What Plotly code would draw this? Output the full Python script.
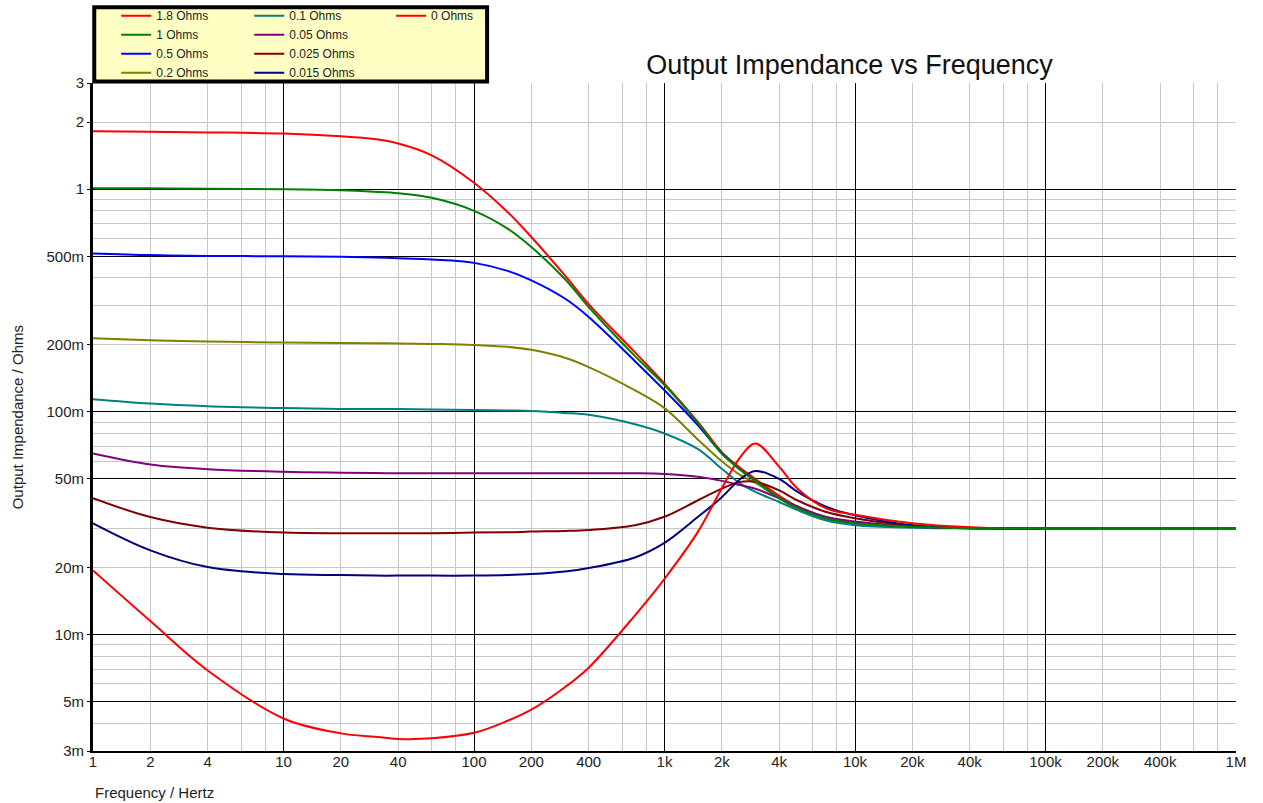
import plotly.graph_objects as go

# ---- data ----
freq = [1, 2, 4, 10, 20, 30, 40, 60, 100, 150, 200, 300, 400, 700, 1000, 1500, 2000, 2500, 3000,
        4000, 5000, 7000, 10000, 20000, 50000, 100000, 1000000]

z_1p8 = [1.82, 1.81, 1.80, 1.78, 1.73, 1.68, 1.605, 1.42, 1.07, 0.79, 0.61, 0.41, 0.305, 0.185, 0.134,
         0.090, 0.066, 0.056, 0.050, 0.042, 0.0375, 0.0335, 0.0318, 0.0306, 0.0300, 0.0300, 0.0300]
z_1 = [1.01, 1.01, 1.005, 1.0, 0.99, 0.975, 0.96, 0.915, 0.80, 0.666, 0.55, 0.395, 0.296, 0.178, 0.132,
       0.089, 0.065, 0.055, 0.049, 0.041, 0.037, 0.0333, 0.0316, 0.0305, 0.0300, 0.0300, 0.0300]
z_0p5 = [0.515, 0.506, 0.502, 0.50, 0.498, 0.494, 0.49, 0.483, 0.467, 0.43, 0.39, 0.323, 0.267, 0.169, 0.125,
         0.087, 0.065, 0.055, 0.049, 0.041, 0.037, 0.0333, 0.0316, 0.0305, 0.0300, 0.0300, 0.0300]
z_0p2 = [0.214, 0.210, 0.207, 0.205, 0.204, 0.2035, 0.203, 0.202, 0.200, 0.196, 0.190, 0.175, 0.159, 0.125, 0.104,
         0.075, 0.060, 0.052, 0.048, 0.041, 0.0365, 0.033, 0.0313, 0.0304, 0.0300, 0.0300, 0.0300]
z_0p1 = [0.114, 0.109, 0.106, 0.104, 0.103, 0.103, 0.103, 0.1025, 0.102, 0.1015, 0.101, 0.099, 0.097, 0.088, 0.080,
         0.068, 0.0555, 0.0476, 0.0437, 0.0394, 0.0362, 0.0326, 0.0310, 0.0302, 0.0300, 0.0300, 0.0300]
z_0p05 = [0.065, 0.058, 0.0553, 0.0538, 0.0533, 0.0531, 0.053, 0.053, 0.053, 0.053, 0.053, 0.053, 0.053, 0.053, 0.0526,
          0.0511, 0.049, 0.0469, 0.0452, 0.0409, 0.0376, 0.0338, 0.0322, 0.0305, 0.0300, 0.0300, 0.0300]
z_0p025 = [0.041, 0.0337, 0.0302, 0.0287, 0.0285, 0.0285, 0.0285, 0.0285, 0.0287, 0.0288, 0.029, 0.0292, 0.0295, 0.031, 0.0338,
           0.0401, 0.0452, 0.0485, 0.0485, 0.0444, 0.040, 0.0356, 0.0333, 0.0308, 0.0300, 0.0300, 0.0300]
z_0p015 = [0.0316, 0.0239, 0.0201, 0.0187, 0.0185, 0.0184, 0.0184, 0.0184, 0.0184, 0.0185, 0.0187, 0.0192, 0.0199, 0.0222, 0.0258,
           0.0338, 0.0414, 0.050, 0.0543, 0.050, 0.0437, 0.0376, 0.0343, 0.0310, 0.0300, 0.0300, 0.0300]
z_0 = [0.0194, 0.0115, 0.0069, 0.0042, 0.0036, 0.00348, 0.0034, 0.00342, 0.00362, 0.0041, 0.0046, 0.0058, 0.0071, 0.0122, 0.0178,
       0.029, 0.0454, 0.0627, 0.0721, 0.0567, 0.0452, 0.037, 0.0345, 0.0316, 0.0301, 0.0300, 0.0300]

series_names = ["1.8 Ohms", "1 Ohms", "0.5 Ohms", "0.2 Ohms", "0.1 Ohms",
                "0.05 Ohms", "0.025 Ohms", "0.015 Ohms", "0 Ohms"]
series_values = [z_1p8, z_1, z_0p5, z_0p2, z_0p1, z_0p05, z_0p025, z_0p015, z_0]
series_colors = ["#FF0000", "#008000", "#0000FF", "#808000", "#008080",
                 "#800080", "#800000", "#000080", "#FF0000"]
series_legend = ["legend"] * 4 + ["legend2"] * 4 + ["legend3"]

x_tick_vals = [1, 2, 4, 10, 20, 40, 100, 200, 400, 1e3, 2e3, 4e3, 1e4, 2e4, 4e4, 1e5, 2e5, 4e5, 1e6]
x_tick_text = ["1", "2", "4", "10", "20", "40", "100", "200", "400", "1k", "2k", "4k",
               "10k", "20k", "40k", "100k", "200k", "400k", "1M"]
y_tick_vals = [0.003, 0.005, 0.01, 0.02, 0.05, 0.1, 0.2, 0.5, 1, 2, 3]
y_tick_text = ["3m", "5m", "10m", "20m", "50m", "100m", "200m", "500m", "1", "2", "3"]

# dark grid lines (decades / 1-and-5 on the value axis) and light grid lines
x_dark_grid = [1, 10, 100, 1e3, 1e4, 1e5, 1e6]
x_light_grid = [m * d for d in [1, 10, 100, 1e3, 1e4, 1e5] for m in (2, 4, 6, 8)]
y_dark_grid = [0.005, 0.01, 0.05, 0.1, 0.5, 1]
y_light_grid = ([m * 0.001 for m in (3, 4, 6, 7, 8, 9)] +
                [m * 0.01 for m in (2, 3, 4, 6, 7, 8, 9)] +
                [m * 0.1 for m in (2, 3, 4, 6, 7, 8, 9)] + [2, 3])

X_RANGE = [0, 6]
Y_RANGE = [-2.5228787, 0.4771213]

W, H = 1263, 803
ML, MR, MT, MB = 93, 27, 83, 52

FONT = "Liberation Sans, Arial, sans-serif"

fig = go.Figure()
for i, (name, vals, col, lg) in enumerate(zip(series_names, series_values, series_colors, series_legend)):
    # spread over the three (identical-range) axis pairs so every pair is drawn
    xa, ya = [("x", "y"), ("x3", "y3")][i] if i < 2 else ("x2", "y2")
    fig.add_trace(go.Scatter(
        x=freq, y=vals, name=name, mode="lines",
        line=dict(color=col, width=2, shape="spline", smoothing=1.0),
        xaxis=xa, yaxis=ya, legend=lg,
    ))

legend_common = dict(bgcolor="rgba(0,0,0,0)", borderwidth=0,
                     font=dict(family=FONT, size=12, color="#222"),
                     yanchor="top", xanchor="left", orientation="v",
                     tracegroupgap=0, itemclick=False, itemdoubleclick=False)
LEG_Y = 1.1223

hidden = dict(showticklabels=False, ticks="", zeroline=False, showline=False)

fig.update_layout(
    width=W, height=H,
    margin=dict(l=ML, r=MR, t=MT, b=MB, pad=0, autoexpand=False),
    paper_bgcolor="white", plot_bgcolor="white",
    font=dict(family=FONT, size=15, color="#222"),
    title=dict(text="Output Impendance vs Frequency", xref="container", x=849.5 / W,
               xanchor="center", yref="container", y=1 - 65 / H, yanchor="middle",
               font=dict(family=FONT, size=27, color="#111")),
    # light grid + axis lines
    xaxis=dict(type="log", range=X_RANGE, tickmode="array", tickvals=x_light_grid,
               showticklabels=False, ticks="", showgrid=True, gridcolor="#C8C8C8", gridwidth=1,
               zeroline=False, showline=True, linecolor="#000", linewidth=2),
    yaxis=dict(type="log", range=Y_RANGE, tickmode="array", tickvals=y_light_grid,
               showticklabels=False, ticks="", showgrid=True, gridcolor="#C8C8C8", gridwidth=1,
               zeroline=False, showline=True, linecolor="#000", linewidth=3),
    # dark grid overlay
    xaxis3=dict(type="log", range=X_RANGE, overlaying="x", anchor="y3", side="bottom",
                tickmode="array", tickvals=x_dark_grid, showgrid=True, gridcolor="#000",
                gridwidth=1, **hidden),
    yaxis3=dict(type="log", range=Y_RANGE, overlaying="y", anchor="x3", side="left",
                tickmode="array", tickvals=y_dark_grid, showgrid=True, gridcolor="#000",
                gridwidth=1, **hidden),
    # labelled overlay axes
    xaxis2=dict(type="log", range=X_RANGE, overlaying="x", anchor="y2", side="bottom",
                tickmode="array", tickvals=x_tick_vals, ticktext=x_tick_text,
                showgrid=False, zeroline=False, showline=False, ticks="",
                tickfont=dict(family=FONT, size=15, color="#222")),
    yaxis2=dict(type="log", range=Y_RANGE, overlaying="y", anchor="x2", side="left",
                tickmode="array", tickvals=y_tick_vals, ticktext=y_tick_text,
                showgrid=False, zeroline=False, showline=False,
                ticks="outside", ticklen=5, tickcolor="#000", tickwidth=1,
                tickfont=dict(family=FONT, size=15, color="#222")),
    legend=dict(x=0.0203, y=LEG_Y, **legend_common),
    legend2=dict(x=0.1367, y=LEG_Y, **legend_common),
    legend3=dict(x=0.2608, y=LEG_Y, **legend_common),
    shapes=[dict(type="rect", xref="paper", yref="paper", x0=0.0011, x1=0.3448,
                 y0=1.0024, y1=1.1133, fillcolor="#FFFFC4",
                 line=dict(color="#000", width=4), layer="above")],
    annotations=[
        dict(text="Frequency / Hertz", xref="paper", yref="paper", x=0, y=0,
             xanchor="left", yanchor="middle", yshift=-41, showarrow=False,
             font=dict(family=FONT, size=15, color="#222")),
        dict(text="Output Impendance / Ohms", xref="paper", yref="paper", x=0, y=0.5,
             xanchor="center", yanchor="middle", xshift=-75.7, textangle=-90, showarrow=False,
             font=dict(family=FONT, size=15, color="#222")),
    ],
    showlegend=True,
)

fig.write_html(
    "out.html",
    config={"displayModeBar": False},
    post_script="document.body.style.margin='0';document.documentElement.style.overflow='hidden';",
)
